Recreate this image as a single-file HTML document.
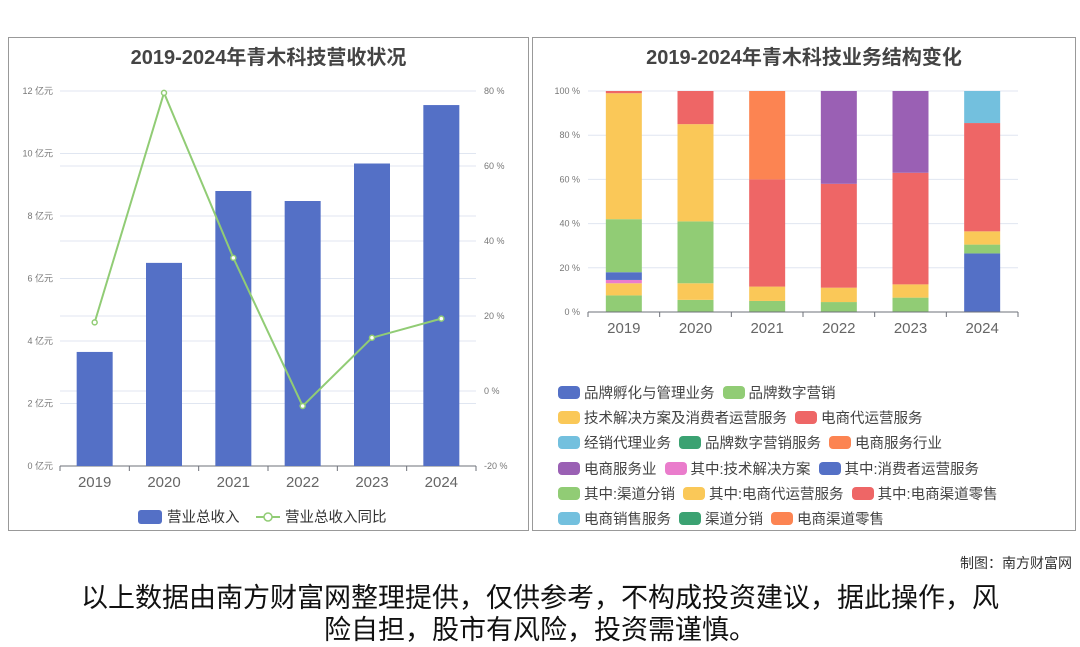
<!DOCTYPE html>
<html><head><meta charset="utf-8"><style>
body{margin:0;width:1080px;height:646px;background:#fff;font-family:"Liberation Sans","Noto Sans CJK SC",sans-serif;position:relative;overflow:hidden}
.panel{position:absolute;border:1px solid #999;background:#fff}
.title{position:absolute;width:100%;text-align:center;font-weight:bold;font-size:20px;color:#444;top:3px}
.leg{position:absolute;left:558px;font-size:14.5px;color:#444;display:flex;align-items:center;white-space:nowrap}
.leg span.ic{display:inline-block;width:22px;height:13px;border-radius:4px;margin-right:4px}
.leg span.t{margin-right:8px}
</style></head><body>
<div class="panel" style="left:8px;top:37px;width:519px;height:492px"><div class="title">2019-2024年青木科技营收状况</div></div>
<div class="panel" style="left:532px;top:37px;width:542px;height:492px"><div class="title">2019-2024年青木科技业务结构变化</div></div>
<svg id="svg" width="1080" height="646" style="position:absolute;left:0;top:0"></svg>
<div id="legs"></div>
<div style="position:absolute;right:8px;top:553px;font-size:14px;color:#333">制图：南方财富网</div>
<div style="position:absolute;left:0;top:580px;width:1080px;text-align:center;font-family:'WenQuanYi Zen Hei','Noto Sans CJK SC',sans-serif;font-size:27px;line-height:32px;color:#111">以上数据由南方财富网整理提供，仅供参考，不构成投资建议，据此操作，风<br>险自担，股市有风险，投资需谨慎。</div>
<script>
const years=["2019","2020","2021","2022","2023","2024"];
const revenue=[3.65,6.5,8.8,8.48,9.68,11.55];
const growth=[18.3,79.5,35.5,-4,14.2,19.3];
const leftTicks=[0,2,4,6,8,10,12];
const rightTicks=[-20,0,20,40,60,80];
const seriesNames=["品牌孵化与管理业务","品牌数字营销","技术解决方案及消费者运营服务","电商代运营服务","经销代理业务","品牌数字营销服务","电商服务行业","电商服务业","其中:技术解决方案","其中:消费者运营服务","其中:渠道分销","其中:电商代运营服务","其中:电商渠道零售","电商销售服务","渠道分销","电商渠道零售"];
const colors=["#5470c6","#91cc75","#fac858","#ee6666","#73c0de","#3ba272","#fc8452","#9a60b4","#ea7ccc","#5470c6","#91cc75","#fac858","#ee6666","#73c0de","#3ba272","#fc8452"];
const s0=[0,0,0,0,0,26.5];
const s1=[7.5,5.5,5,4.5,6.5,4];
const s2=[5.5,7.5,6.5,6.5,6,6];
const s3=[0,0,48.5,47,50.5,49];
const s4=[0,0,0,0,0,0];
const s5=[0,0,0,0,0,0];
const s6=[0,0,40,0,0,0];
const s7=[0,0,0,42,37,0];
const s8=[1.5,0,0,0,0,0];
const s9=[3.5,0,0,0,0,0];
const s10=[24,28,0,0,0,0];
const s11=[57,44,0,0,0,0];
const s12=[1,15,0,0,0,0];
const s13=[0,0,0,0,0,14.5];
const s14=[0,0,0,0,0,0];
const s15=[0,0,0,0,0,0];
const shares=[s0,s1,s2,s3,s4,s5,s6,s7,s8,s9,s10,s11,s12,s13,s14,s15];
const pctTicks=[0,20,40,60,80,100];
const svg=document.getElementById('svg');const NS="http://www.w3.org/2000/svg";
function mk(t,a,txt){const e=document.createElementNS(NS,t);for(const k in a)e.setAttribute(k,a[k]);if(txt!=null)e.textContent=txt;svg.appendChild(e);return e;}
const L0=60,L1=476,T=91,B=466;
const yL=v=>B-(v/12)*(B-T);const yR=v=>B-((v+20)/100)*(B-T);
const bw=(L1-L0)/6;const xc=i=>L0+bw*(i+0.5);
leftTicks.forEach(v=>{let g=mk('line',{x1:L0,x2:L1,y1:yL(v),y2:yL(v),stroke:'#e0e6f1'});
let t=mk('text',{x:53,y:yL(v)+3,'text-anchor':'end','font-size':9,fill:'#777'},v+' 亿元');});
rightTicks.forEach(v=>{let g=mk('line',{x1:L0,x2:L1,y1:yR(v),y2:yR(v),stroke:'#e0e6f1'});
let t=mk('text',{x:484,y:yR(v)+3,'font-size':9,fill:'#777'},v+' %');});
mk('line',{x1:L0,x2:L1,y1:B,y2:B,stroke:'#6e7079'});
revenue.forEach((v,i)=>{let r=mk('rect',{x:xc(i)-18,y:yL(v),width:36,height:B-yL(v),fill:'#5470c6'});});
years.forEach((y,i)=>{mk('line',{x1:L0+bw*i,x2:L0+bw*i,y1:B,y2:B+5,stroke:'#6e7079'});let t=mk('text',{x:xc(i),y:487,'text-anchor':'middle','font-size':15,fill:'#666'},y);});
mk('line',{x1:L1,x2:L1,y1:B,y2:B+5,stroke:'#6e7079'});
let pl=mk('polyline',{points:growth.map((v,i)=>xc(i)+','+yR(v)).join(' '),fill:'none',stroke:'#91cc75','stroke-width':2});
growth.forEach((v,i)=>{let c=mk('circle',{cx:xc(i),cy:yR(v),r:2.5,fill:'#fff',stroke:'#91cc75','stroke-width':1.5});});
let lr=mk('rect',{x:138,y:510,width:24,height:14,rx:3,fill:'#5470c6'});
let lt=mk('text',{x:167,y:522,'font-size':14.5,fill:'#333'},'营业总收入');
mk('line',{x1:256,x2:280,y1:517,y2:517,stroke:'#91cc75','stroke-width':2});mk('circle',{cx:268,cy:517,r:4,fill:'#fff',stroke:'#91cc75','stroke-width':1.5});
let lt2=mk('text',{x:285,y:522,'font-size':14.5,fill:'#333'},'营业总收入同比');
const R0=588,R1=1018,RT=91,RB=312;const rbw=(R1-R0)/6;const rx=i=>R0+rbw*(i+0.5);const yP=v=>RB-(v/100)*(RB-RT);
pctTicks.forEach(v=>{let g=mk('line',{x1:R0,x2:R1,y1:yP(v),y2:yP(v),stroke:'#e0e6f1'});
let t=mk('text',{x:580,y:yP(v)+3,'text-anchor':'end','font-size':9,fill:'#777'},v+' %');});
years.forEach((y,i)=>{let acc=0;shares.forEach((s,k)=>{const v=s[i];if(v>0){let r=mk('rect',{x:rx(i)-18,y:yP(acc+v),width:36,height:yP(acc)-yP(acc+v),fill:colors[k]});}acc+=v;});
mk('line',{x1:R0+rbw*i,x2:R0+rbw*i,y1:RB,y2:RB+5,stroke:'#6e7079'});
let t=mk('text',{x:rx(i),y:333,'text-anchor':'middle','font-size':15,fill:'#666'},y);});
mk('line',{x1:R0,x2:R1,y1:RB,y2:RB,stroke:'#6e7079'});mk('line',{x1:R1,x2:R1,y1:RB,y2:RB+5,stroke:'#6e7079'});mk('line',{x1:R0,x2:R0,y1:RB,y2:RB+5,stroke:'#6e7079'});
const rows=[[0,1],[2,3],[4,5,6],[7,8,9],[10,11,12],[13,14,15]];
const legs=document.getElementById('legs');
rows.forEach((row,ri)=>{const d=document.createElement('div');d.className='leg';d.style.top=(382+ri*25.2)+'px';


row.forEach(k=>{const ic=document.createElement('span');ic.className='ic';ic.style.background=colors[k];


const t=document.createElement('span');t.className='t';t.textContent=seriesNames[k];


d.appendChild(ic);d.appendChild(t);});legs.appendChild(d);});
</script>
</body></html>
